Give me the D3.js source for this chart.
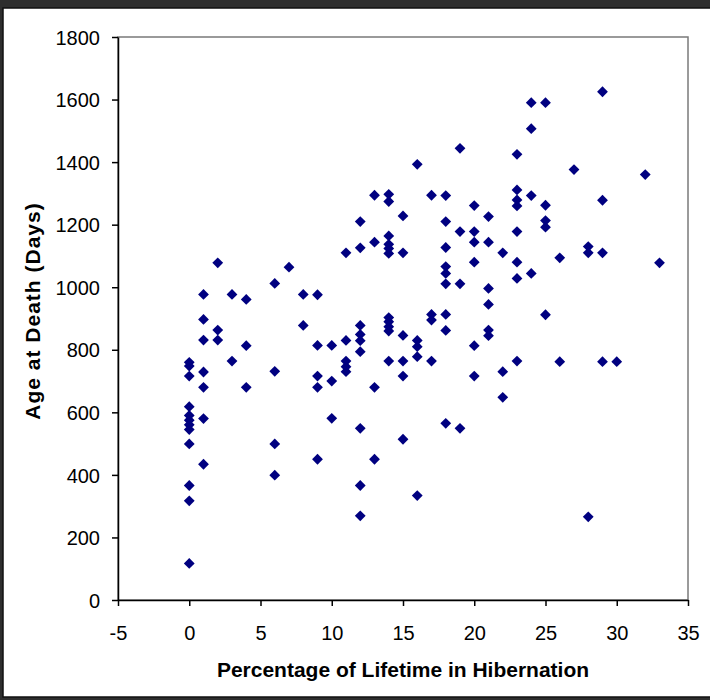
<!DOCTYPE html>
<html>
<head>
<meta charset="utf-8">
<script src="https://cdn.jsdelivr.net/npm/d3@7"></script>
<style>
	body { margin: 0; background: #2e2e2e; }
	svg { display: block; }
	.tick text { font-family: "Liberation Sans", Arial, sans-serif; font-size: 20px; fill: #000; }
	.title { font-family: "Liberation Sans", Arial, sans-serif; font-size: 21px; font-weight: bold; fill: #000; }
</style>
</head>
<body>
<svg id="chart" width="710" height="700"></svg>
<script>
/*********************************************************\
* Age at death vs. share of lifetime spent hibernating    *
\*********************************************************/

// percentage of lifetime in hibernation, one row per x value
var hibernationPct = [
	0,0,0,0,0,0,0,0,0,0,0,0,
	1,1,1,1,1,1,1,
	2,2,2,
	3,3,
	4,4,4,
	6,6,6,6,
	7,
	8,8,
	9,9,9,9,9,
	10,10,10,
	11,11,11,11,11,
	12,12,12,12,12,12,12,12,12,
	13,13,13,13,
	14,14,14,14,14,14,14,14,14,14,14,
	15,15,15,15,15,15,
	16,16,16,16,16,
	17,17,17,17,
	18,18,18,18,18,18,18,18,18,
	19,19,19,19,
	20,20,20,20,20,20,
	21,21,21,21,21,21,
	22,22,22,
	23,23,23,23,23,23,23,23,
	24,24,24,24,
	25,25,25,25,25,
	26,26,
	27,
	28,28,28,
	29,29,29,29,
	30,
	32,
	33
];

// age at death (days), same order as above
var ageAtDeath = [
	760,748,716,618,590,575,560,545,499,366,317,117,
	977,897,831,729,680,580,434,
	1078,863,831,
	977,764,
	961,813,680,
	1012,731,499,399,
	1064,
	977,878,
	976,814,716,680,450,
	814,700,581,
	1110,830,764,746,730,
	1210,1126,878,849,829,794,549,366,269,
	1294,1144,680,450,
	1297,1274,1164,1137,1124,1108,903,890,874,860,764,
	1228,1110,846,764,716,514,
	1393,830,810,778,334,
	1294,913,895,764,
	1293,1210,1127,1066,1044,1011,913,862,565,
	1444,1178,1011,549,
	1261,1178,1144,1080,813,716,
	1226,1144,996,945,863,845,
	1110,730,648,
	1425,1311,1279,1260,1178,1080,1028,764,
	1590,1507,1293,1044,
	1590,1262,1213,1192,912,
	1094,762,
	1376,
	1130,1110,266,
	1625,1278,1110,762,
	762,
	1360,
	1078
];

var xTicks = [-5, 0, 5, 10, 15, 20, 25, 30, 35];
var yTicks = [0, 200, 400, 600, 800, 1000, 1200, 1400, 1600, 1800];

var xTitle = 'Percentage of Lifetime in Hibernation';
var yTitle = 'Age at Death (Days)';

//- - - - - - - - - - - - - - - - - - - - - - - - - - - - - - - - - - - - - - -

var svg = d3.select('#chart'),
	plot = { left: 118, right: 688, top: 37, bottom: 600 };

// white page inside the dark window frame
svg.append('rect')
	.attr('x', 3).attr('y', 8)
	.attr('width', 710).attr('height', 689)
	.attr('fill', '#fff')
	.attr('stroke', '#111')
	.attr('stroke-width', 1.5)
;

var x = d3.scaleLinear().domain([-5, 35]).range([plot.left, plot.right]),
	y = d3.scaleLinear().domain([0, 1800]).range([plot.bottom, plot.top]),
	plain = function (d) { return String(d); };

// plot area border
svg.append('rect')
	.attr('x', plot.left).attr('y', plot.top)
	.attr('width', plot.right - plot.left).attr('height', plot.bottom - plot.top)
	.attr('fill', 'none')
	.attr('stroke', '#7a7a7a')
	.attr('stroke-width', 1.5)
;

var xAxis = svg.append('g')
	.attr('transform', 'translate(0,' + plot.bottom + ')')
	.call(d3.axisBottom(x).tickValues(xTicks).tickFormat(plain)
		.tickSize(6).tickSizeOuter(0).tickPadding(20));

var yAxis = svg.append('g')
	.attr('transform', 'translate(' + plot.left + ',0)')
	.call(d3.axisLeft(y).tickValues(yTicks).tickFormat(plain)
		.tickSize(6).tickSizeOuter(0).tickPadding(12));

svg.selectAll('.domain, .tick line')
	.attr('stroke', '#000')
	.attr('stroke-width', 1.5)
;
yAxis.selectAll('.tick text').attr('dy', '0.36em');

// points
var r = 5.4,
	diamond = 'M0,' + (-r) + 'L' + r + ',0L0,' + r + 'L' + (-r) + ',0Z';

svg.append('g')
	.selectAll('path')
	.data(d3.range(ageAtDeath.length))
	.enter()
	.append('path')
	.attr('d', diamond)
	.attr('fill', '#000080')
	.attr('transform', function (i) {
		return 'translate(' + x(hibernationPct[i]) + ',' + y(ageAtDeath[i]) + ')';
	})
;

// axis titles
svg.append('text')
	.attr('class', 'title')
	.attr('x', (plot.left + plot.right) / 2)
	.attr('y', 677)
	.attr('text-anchor', 'middle')
	.text(xTitle)
;

svg.append('text')
	.attr('class', 'title')
	.attr('transform', 'translate(40,311) rotate(-90)')
	.attr('text-anchor', 'middle')
	.style('letter-spacing', '1px')
	.text(yTitle)
;
</script>
</body>
</html>
